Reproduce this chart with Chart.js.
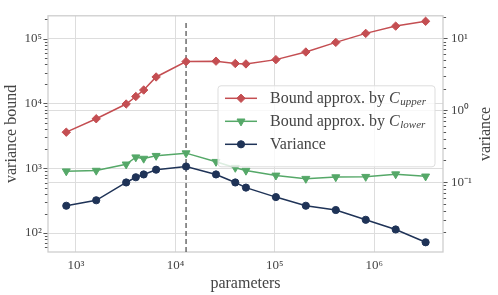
<!DOCTYPE html>
<html lang="en">
<head>
<meta charset="UTF-8">
<title>Variance bound vs parameters</title>
<script src="https://cdn.jsdelivr.net/npm/chart.js"></script>
<style>
  html, body { margin: 0; padding: 0; background: #fff; }
</style>
</head>
<body>
<canvas id="chart" width="498" height="295"></canvas>
<script>
  // values
  const params = [800, 1600, 3200, 4000, 4800, 6400, 12800, 25600, 40000, 51200, 102400, 204800, 409600, 819200, 1638400, 3276800];
  const boundUpper = [3600, 5800, 9800, 12800, 16100, 25600, 44200, 44900, 41300, 40700, 47400, 62200, 87500, 120500, 156000, 185000];
  const boundLower = [900, 920, 1150, 1480, 1410, 1560, 1710, 1260, 1020, 920, 775, 690, 730, 740, 810, 750];
  const variance = [0.047, 0.056, 0.099, 0.117, 0.128, 0.149, 0.165, 0.128, 0.099, 0.084, 0.062, 0.047, 0.041, 0.030, 0.022, 0.0146];
  const chosenParams = 12800; // dashed marker

  const xRange = [524, 4.9e6];
  const boundRange = [51, 2.25e5];
  const varRange = [0.0107, 20.5];

  const RED = '#c44e52', GREEN = '#55a868', NAVY = '#1f3357';
  const TEXT = '#444444';
  const SERIF = "'Liberation Serif', 'Times New Roman', serif";

  Chart.defaults.font.family = SERIF;
  Chart.defaults.color = TEXT;

  const SUP = { '-': '\u207b', '0': '\u2070', '1': '\u00b9', '2': '\u00b2', '3': '\u00b3', '4': '\u2074', '5': '\u2075', '6': '\u2076', '7': '\u2077', '8': '\u2078', '9': '\u2079' };

  function powLabel(v) {
    const e = Math.log10(v);
    const r = Math.round(e);
    if (Math.abs(e - r) > 1e-6) return '';
    return '10' + String(r).split('').map(c => SUP[c]).join('');
  }

  // keep only 1..9 x 10^n ticks (drop chart.js min/max extras)
  function niceTicks(scale) {
    scale.ticks = scale.ticks.filter(t => {
      const e = Math.floor(Math.log10(t.value) + 1e-9);
      const m = t.value / Math.pow(10, e);
      return Math.abs(m - Math.round(m)) < 1e-6;
    });
  }

  const majorGrid = ctx => (ctx.tick && powLabel(ctx.tick.value) ? '#dddddd' : 'rgba(0,0,0,0)');

  function pts(ys) {
    return params.map((p, i) => ({ x: p, y: ys[i] }));
  }

  // frame, outside tick marks on both y axes, right axis title (reads upward like matplotlib)
  const frame = {
    id: 'frame',
    beforeDatasetsDraw(chart) {
      const { ctx, chartArea: a } = chart;
      ctx.save();
      ctx.strokeStyle = '#cccccc';
      ctx.lineWidth = 1.25;
      ctx.strokeRect(a.left, a.top, a.right - a.left, a.bottom - a.top);
      ctx.strokeStyle = TEXT;
      ctx.lineWidth = 0.9;
      for (const id of ['y', 'y1']) {
        const s = chart.scales[id];
        const dir = s.position === 'left' ? -1 : 1;
        const x0 = dir < 0 ? a.left - 0.6 : a.right + 0.6;
        s.ticks.forEach(t => {
          const py = Math.round(s.getPixelForValue(t.value)) + 0.5;
          if (py < a.top - 1 || py > a.bottom + 1) return;
          const len = powLabel(t.value) ? 4 : 2.5;
          ctx.beginPath();
          ctx.moveTo(x0, py);
          ctx.lineTo(x0 + dir * len, py);
          ctx.stroke();
        });
      }
      const s1 = chart.scales.y1;
      ctx.translate(s1.right - 12, (a.top + a.bottom) / 2);
      ctx.rotate(-Math.PI / 2);
      ctx.font = '16px ' + SERIF;
      ctx.fillStyle = TEXT;
      ctx.textAlign = 'center';
      ctx.textBaseline = 'middle';
      ctx.fillText('variance', 0, 0);
      ctx.restore();
    }
  };

  // legend with italic C and subscript
  const legendBox = {
    id: 'legendBox',
    afterDatasetsDraw(chart) {
      const { ctx, chartArea: a } = chart;
      const w = 217, h = 81;
      const left = a.right - 8 - w, top = a.top + 70;
      ctx.save();
      ctx.beginPath();
      ctx.roundRect(left, top, w, h, 3);
      ctx.fillStyle = 'rgba(255,255,255,0.8)';
      ctx.fill();
      ctx.strokeStyle = '#dddddd';
      ctx.lineWidth = 1;
      ctx.stroke();

      const items = chart.data.datasets.filter(d => !d.noLegend);
      items.forEach((ds, i) => {
        const cy = top + 12.5 + i * 23;
        ctx.strokeStyle = ds.borderColor;
        ctx.fillStyle = ds.backgroundColor;
        ctx.lineWidth = 1.5;
        ctx.beginPath();
        ctx.moveTo(left + 7, cy);
        ctx.lineTo(left + 39, cy);
        ctx.stroke();
        if (Chart.helpers && Chart.helpers.drawPoint) {
          ctx.lineWidth = 1;
          Chart.helpers.drawPoint(ctx, {
            pointStyle: ds.pointStyle, rotation: ds.pointRotation || 0,
            radius: ds.pointRadius, borderWidth: 1
          }, left + 23, cy);
        }
        ctx.fillStyle = TEXT;
        ctx.textBaseline = 'middle';
        ctx.textAlign = 'left';
        let tx = left + 52;
        const m = ds.label.match(/^(.*)C_(\w+)$/);
        const base = m ? m[1] : ds.label;
        ctx.font = '16px ' + SERIF;
        ctx.fillText(base, tx, cy);
        if (m) {
          tx += ctx.measureText(base).width;
          ctx.font = 'italic 16px ' + SERIF;
          ctx.fillText('C', tx, cy);
          tx += ctx.measureText('C').width + 0.5;
          ctx.font = 'italic 11px ' + SERIF;
          ctx.fillText(m[2], tx, cy + 4);
        }
      });
      ctx.restore();
    }
  };

  new Chart(document.getElementById('chart'), {
    type: 'line',
    data: {
      datasets: [
        {
          label: 'Bound approx. by C_upper',
          data: pts(boundUpper),
          yAxisID: 'y',
          borderColor: RED, backgroundColor: RED,
          borderWidth: 1.5,
          pointStyle: 'rectRot', pointRadius: 4.2, pointBorderWidth: 1,
          order: 1
        },
        {
          label: 'Bound approx. by C_lower',
          data: pts(boundLower),
          yAxisID: 'y',
          borderColor: GREEN, backgroundColor: GREEN,
          borderWidth: 1.5,
          pointStyle: 'triangle', pointRotation: 180, pointRadius: 4.6, pointBorderWidth: 1,
          order: 2
        },
        {
          label: 'Variance',
          data: pts(variance),
          yAxisID: 'y1',
          borderColor: NAVY, backgroundColor: NAVY,
          borderWidth: 1.5,
          pointStyle: 'circle', pointRadius: 3.6, pointBorderWidth: 1,
          order: 3
        },
        {
          label: 'chosen',
          noLegend: true,
          data: [{ x: chosenParams, y: boundRange[0] }, { x: chosenParams, y: Math.max(...boundUpper) }],
          yAxisID: 'y',
          borderColor: '#555555',
          borderWidth: 1.3,
          borderDash: [5, 3],
          pointRadius: 0,
          order: 10
        }
      ]
    },
    options: {
      responsive: false,
      animation: false,
      layout: { padding: { top: 6, left: 0, right: 0, bottom: 0 } },
      plugins: { legend: { display: false }, tooltip: { enabled: false } },
      elements: { line: { tension: 0 } },
      scales: {
        x: {
          type: 'logarithmic',
          min: xRange[0], max: xRange[1],
          afterBuildTicks: niceTicks,
          afterFit: s => { s.height = 43; },
          border: { display: false },
          grid: { color: majorGrid, lineWidth: 1, drawTicks: false },
          ticks: { autoSkip: false, maxRotation: 0, padding: 6, font: { size: 13 }, callback: v => powLabel(v) },
          title: { display: true, text: 'parameters', font: { size: 16 }, padding: { top: 0, bottom: 2 } }
        },
        y: {
          type: 'logarithmic',
          position: 'left',
          min: boundRange[0], max: boundRange[1],
          afterBuildTicks: niceTicks,
          afterFit: s => { s.width = 48; },
          border: { display: false },
          grid: { color: majorGrid, lineWidth: 1, drawTicks: false },
          ticks: { autoSkip: false, padding: 6, font: { size: 13 }, callback: v => powLabel(v) },
          title: { display: true, text: 'variance bound', font: { size: 16 }, padding: { top: 2, bottom: 0 } }
        },
        y1: {
          type: 'logarithmic',
          position: 'right',
          min: varRange[0], max: varRange[1],
          afterBuildTicks: niceTicks,
          afterFit: s => { s.width = 55; },
          border: { display: false },
          grid: { color: majorGrid, lineWidth: 1, drawTicks: false },
          ticks: { autoSkip: false, padding: 8, font: { size: 13 }, callback: v => powLabel(v) },
          title: { display: false }
        }
      }
    },
    plugins: [frame, legendBox]
  });
</script>
</body>
</html>
